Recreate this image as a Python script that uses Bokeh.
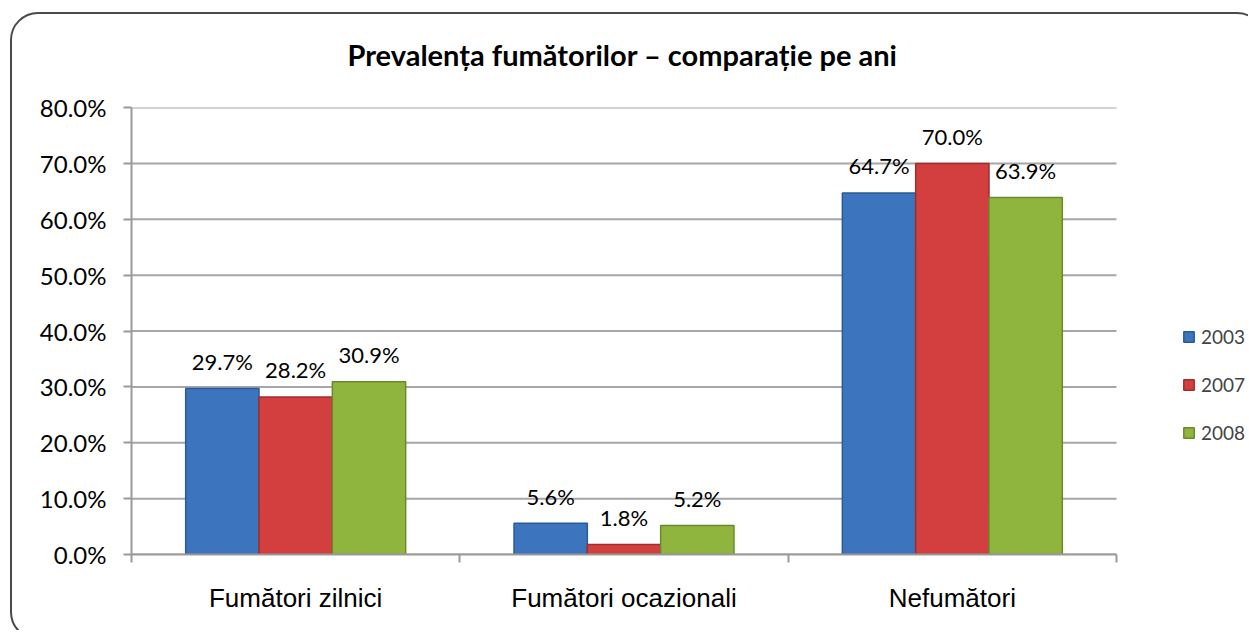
from bokeh.plotting import figure
from bokeh.models import (ColumnDataSource, Range1d, FixedTicker, PrintfTickFormatter,
                          LabelSet, Legend, LegendItem, InlineStyleSheet)
from bokeh.core.properties import value
from bokeh.embed import file_html
from bokeh.resources import INLINE

title_text = "Prevalența fumătorilor – comparație pe ani"
categories = ["Fumători zilnici", "Fumători ocazionali", "Nefumători"]
years = ["2003", "2007", "2008"]
v2003 = [29.7, 5.6, 64.7]
v2007 = [28.2, 1.8, 70.0]
v2008 = [30.9, 5.2, 63.9]
y_ticks = [0, 10, 20, 30, 40, 50, 60, 70, 80]

series = [v2003, v2007, v2008]
fills = ["#3C74BE", "#D33F3E", "#90B53F"]
edges = ["#2A5A97", "#A02E2D", "#6A8A2B"]

W, H = 1248, 630
LEFT, AXIS_RIGHT = 131, 1116          # pixel extent of the category axis inside the canvas
ncat = len(categories)
x_end = ncat * (W - LEFT) / (AXIS_RIGHT - LEFT)

p = figure(width=W, height=H, x_range=Range1d(0, x_end), y_range=Range1d(0, 80),
           output_backend="svg", toolbar_location=None,
           min_border_left=LEFT, min_border_right=0, min_border_top=107, min_border_bottom=76)
p.margin = (0, 0, 0, 0)
p.stylesheets = [InlineStyleSheet(css="""
:host { position: relative; overflow: hidden; }
:host::before {
  content: ""; position: absolute; left: 10px; top: 12px; right: -17px; bottom: -10px;
  border: 2px solid #4a4a4a; border-radius: 28px; pointer-events: none;
}
""")]
p.outline_line_color = None
p.background_fill_color = "white"
p.border_fill_color = None

p.title.text = title_text
p.title.align = "left"
p.title.vertical_align = "top"
p.title.offset = 216
p.title.text_font = "Lato"
p.title.text_font_style = "bold"
p.title.text_font_size = "29px"
p.title.text_color = "black"
p.title.standoff = 68

# horizontal gridlines limited to the category span
p.segment(x0=[0] * len(y_ticks), x1=[ncat] * len(y_ticks), y0=y_ticks, y1=y_ticks,
          line_color="#A6A6A6", line_width=2)

bw = 0.2233
offsets = [-bw, 0.0, bw]
items = []
for i, (vals, yr) in enumerate(zip(series, years)):
    xs = [k + 0.5 + offsets[i] for k in range(ncat)]
    src = ColumnDataSource(dict(x=xs, top=vals, lab=["%.1f%%" % v for v in vals]))
    r = p.vbar(x="x", top="top", bottom=0, width=bw, source=src,
               fill_color=fills[i], line_color=edges[i], line_width=1.5)
    items.append(LegendItem(label=yr, renderers=[r]))
    lbl = LabelSet(x="x", y="top", text="lab", source=src, y_offset=27,
                   text_align="center", text_baseline="middle",
                   text_font=value("Lato"), text_font_size=value("22px"),
                   text_color="black")
    p.add_layout(lbl)

# axes
p.xaxis.bounds = (0, ncat)
p.xaxis.ticker = FixedTicker(ticks=[k + 0.5 for k in range(ncat)],
                             minor_ticks=list(range(ncat + 1)))
p.xaxis.major_label_overrides = {k + 0.5: c for k, c in enumerate(categories)}
p.xaxis.major_tick_line_color = None
p.xaxis.minor_tick_line_color = "#9A9A9A"
p.xaxis.minor_tick_line_width = 2
p.xaxis.minor_tick_out = 8
p.xaxis.minor_tick_in = 0
p.xaxis.axis_line_color = "#9A9A9A"
p.xaxis.axis_line_width = 2
p.xaxis.major_label_standoff = 20
p.xaxis.major_label_text_font = "Liberation Sans"
p.xaxis.major_label_text_font_size = "26px"
p.xaxis.major_label_text_color = "black"

p.yaxis.ticker = FixedTicker(ticks=y_ticks, minor_ticks=[])
p.yaxis.formatter = PrintfTickFormatter(format="%.1f%%")
p.yaxis.axis_line_color = "#9A9A9A"
p.yaxis.axis_line_width = 2
p.yaxis.major_tick_line_color = "#9A9A9A"
p.yaxis.major_tick_line_width = 2
p.yaxis.major_tick_out = 8
p.yaxis.major_tick_in = 0
p.yaxis.minor_tick_line_color = None
p.yaxis.major_label_standoff = 17
p.yaxis.major_label_text_font = "Lato"
p.yaxis.major_label_text_font_size = "24px"
p.yaxis.major_label_text_color = "black"

p.xgrid.grid_line_color = None
p.ygrid.grid_line_color = None

legend = Legend(items=items, location=(1051, 110), orientation="vertical",
                glyph_width=13, glyph_height=13, label_height=24, spacing=24,
                padding=0, margin=0, border_line_color=None, background_fill_alpha=0,
                label_text_font="Lato", label_text_font_size="19px", label_standoff=6)
p.add_layout(legend, "center")

open("out.html", "w").write(file_html(p, INLINE))
